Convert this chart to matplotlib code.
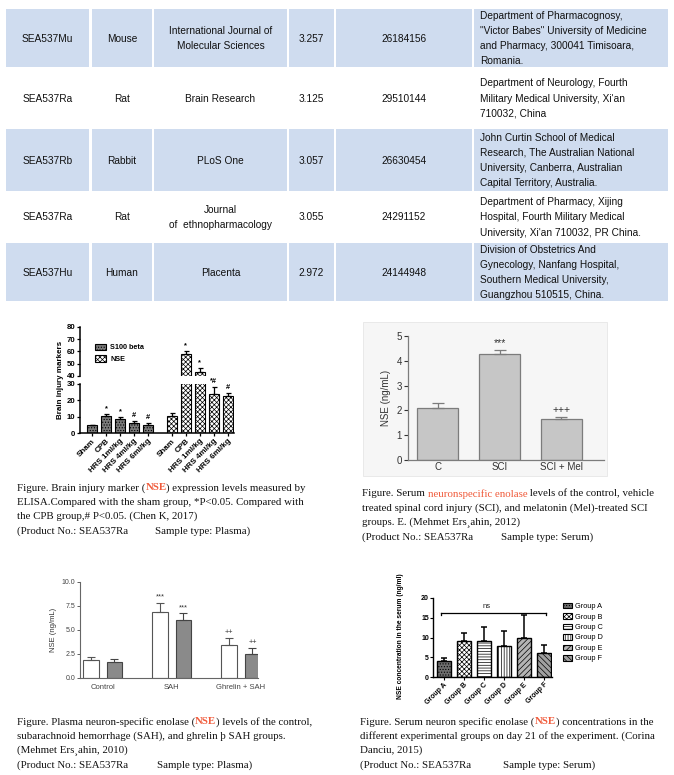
import matplotlib
matplotlib.use("Agg")
import matplotlib.pyplot as plt
from matplotlib.patches import Rectangle, Patch
import numpy as np

W, H = 674, 775

# table
cat_no = ["SEA537Mu", "SEA537Ra", "SEA537Rb", "SEA537Ra", "SEA537Hu"]
species = ["Mouse", "Rat", "Rabbit", "Rat", "Human"]
journals = [["International Journal of", "Molecular Sciences"], ["Brain Research"], ["PLoS One"],
            ["Journal", "of  ethnopharmacology"], ["Placenta"]]
impact = ["3.257", "3.125", "3.057", "3.055", "2.972"]
pmid = ["26184156", "29510144", "26630454", "24291152", "24144948"]
affil = [
    ["Department of Pharmacognosy,", "\"Victor Babes\" University of Medicine",
     "and Pharmacy, 300041 Timisoara,", "Romania."],
    ["Department of Neurology, Fourth", "Military Medical University, Xi'an", "710032, China"],
    ["John Curtin School of Medical", "Research, The Australian National",
     "University, Canberra, Australian", "Capital Territory, Australia."],
    ["Department of Pharmacy, Xijing", "Hospital, Fourth Military Medical",
     "University, Xi'an 710032, PR China."],
    ["Division of Obstetrics And", "Gynecology, Nanfang Hospital,",
     "Southern Medical University,", "Guangzhou 510515, China."],
]

# chart 1 - brain injury markers
groups1 = ["Sham", "CPB", "HRS 1ml/kg", "HRS 4ml/kg", "HRS 6ml/kg"]
s100 = [4.6, 10.4, 8.6, 6.1, 4.9]
s100_err = [0.4, 1.1, 1.2, 1.5, 1.4]
s100_sig = ["", "*", "*", "#", "#"]
nse1 = [10.6, 57.7, 43.5, 23.9, 22.7]
nse1_err = [1.4, 2.7, 2.8, 4.1, 2.0]
nse1_sig = ["", "*", "*", "*#", "#"]

# chart 2 - SCI
groups2 = ["C", "SCI", "SCI + Mel"]
nse2 = [2.08, 4.26, 1.64]
nse2_err = [0.21, 0.18, 0.11]
nse2_sig = ["", "***", "+++"]

# chart 3 - SAH
groups3 = ["Control", "SAH", "Ghrelin + SAH"]
nse3_a = [1.9, 6.83, 3.41]
nse3_a_err = [0.27, 1.0, 0.73]
nse3_b = [1.66, 6.0, 2.45]
nse3_b_err = [0.31, 0.72, 0.65]
nse3_sig = ["", "***", "++"]

# chart 4 - day 21 groups
groups4 = ["Group A", "Group B", "Group C", "Group D", "Group E", "Group F"]
nse4 = [4.0, 9.2, 9.1, 7.8, 9.8, 6.1]
nse4_err = [0.9, 2.0, 3.5, 3.9, 5.9, 1.9]

RED = "#f05a3a"
plt.rcParams["font.family"] = ["Liberation Sans", "DejaVu Sans"]
plt.rcParams["hatch.linewidth"] = 0.5

fig = plt.figure(figsize=(W / 100, H / 100), dpi=100)
tab = fig.add_axes([0, 0, 1, 1])
tab.set_xlim(0, W)
tab.set_ylim(H, 0)
tab.axis("off")


def px_axes(x0, y0, x1, y1):
    return fig.add_axes([x0 / W, 1 - y1 / H, (x1 - x0) / W, (y1 - y0) / H])


# ---------------- table
row_edges = [9, 68, 129, 192, 243, 302]
col_edges = [(6, 89), (92, 152), (154, 287), (289, 334), (336, 472), (474, 668)]
for i in range(5):
    top, bot = row_edges[i], row_edges[i + 1]
    if i % 2 == 0:
        for c0, c1 in col_edges:
            tab.add_patch(Rectangle((c0, top), c1 - c0, bot - top - 1.5, fc="#cfdcef", ec="none"))
    yc = (top + bot) / 2
    cells = [[cat_no[i]], [species[i]], journals[i], [impact[i]], [pmid[i]]]
    for (c0, c1), lines in zip(col_edges[:5], cells):
        n = len(lines)
        for k, s in enumerate(lines):
            tab.text((c0 + c1) / 2, yc + (k - (n - 1) / 2) * 14.5, s, ha="center", va="center",
                     fontsize=7.3, color="#111111")
    n = len(affil[i])
    for k, s in enumerate(affil[i]):
        tab.text(480, yc + (k - (n - 1) / 2) * 15.2, s, ha="left", va="center",
                 fontsize=7.3, color="#111111")

# ---------------- chart 1 (broken axis)
b_top = px_axes(80, 327, 234, 376)
b_bot = px_axes(80, 384, 234, 433)
xa = np.arange(5)
xb = np.arange(5) + 5.7
for ax in (b_top, b_bot):
    ax.bar(xa, s100, 0.75, color="#7a7a7a", edgecolor="black", lw=0.8, hatch="......")
    ax.bar(xb, nse1, 0.75, color="white", edgecolor="black", lw=0.8, hatch="xxxxxxx")
    ax.errorbar(xa, s100, yerr=[np.zeros(5), s100_err], fmt="none", ecolor="black",
                elinewidth=0.9, capsize=1.8, capthick=0.9)
    ax.errorbar(xb, nse1, yerr=[np.zeros(5), nse1_err], fmt="none", ecolor="black",
                elinewidth=0.9, capsize=1.8, capthick=0.9)
    ax.set_xlim(-0.86, 10.14)
    ax.patch.set_alpha(0)
    for sp in ("top", "right"):
        ax.spines[sp].set_visible(False)
    ax.spines["left"].set_linewidth(1.1)
    ax.spines["bottom"].set_linewidth(1.1)
    ax.tick_params(labelsize=5.6, width=0.9, length=2.5, pad=1)
b_top.set_ylim(40, 80)
b_top.set_yticks([40, 50, 60, 70, 80])
b_top.spines["bottom"].set_visible(False)
b_top.set_xticks([])
b_bot.set_ylim(0, 30)
b_bot.set_yticks([0, 10, 20, 30])
b_bot.set_xticks(np.concatenate([xa, xb]))
b_bot.set_xticklabels(groups1 + groups1, rotation=45, ha="right", rotation_mode="anchor",
                      fontsize=5.8, fontweight="bold")
for lb in b_top.get_yticklabels() + b_bot.get_yticklabels():
    lb.set_fontweight("bold")
for xs, vals, errs, sigs in ((xa, s100, s100_err, s100_sig), (xb, nse1, nse1_err, nse1_sig)):
    for x, v, e, s in zip(xs, vals, errs, sigs):
        if not s:
            continue
        ax = b_top if v + e > 40 else b_bot
        ax.text(x, v + e + (1.6 if ax is b_top else 1.1), s, ha="center", va="bottom",
                fontsize=5.3, fontweight="bold", clip_on=False)
b_top.legend(handles=[Patch(fc="#7a7a7a", ec="black", hatch="......", lw=0.8),
                      Patch(fc="white", ec="black", hatch="xxxxxxx", lw=0.8)],
             labels=["S100 beta", "NSE"], loc="upper left", bbox_to_anchor=(91 / W, 1 - 340 / H),
             bbox_transform=fig.transFigure, frameon=False, borderpad=0, handlelength=1.6,
             handleheight=1.0, labelspacing=0.55, handletextpad=0.6,
             prop={"size": 5.2, "weight": "bold"})
fig.text(60 / W, 1 - 380 / H, "Brain injury markers", rotation=90, fontsize=5.8,
         fontweight="bold", ha="center", va="center")

# ---------------- chart 2 (SCI)
tab.add_patch(Rectangle((363, 322), 244, 154, fc="#f6f6f6", ec="#e6e6e6", lw=0.6))
sa = px_axes(408, 336, 604, 460)
x2 = np.arange(3)
sa.bar(x2, nse2, 0.66, color="#c6c6c6", edgecolor="#7c7c7c", lw=0.9)
sa.errorbar(x2, nse2, yerr=[np.zeros(3), nse2_err], fmt="none", ecolor="#7c7c7c",
            elinewidth=0.9, capsize=4.5, capthick=0.9)
for x, v, e, s in zip(x2, nse2, nse2_err, nse2_sig):
    if s:
        sa.text(x, v + e + 0.08, s, ha="center", va="bottom", fontsize=7.5, color="#333333")
sa.set_xlim(-0.48, 2.69)
sa.set_ylim(0, 5)
sa.set_xticks(x2)
sa.set_xticklabels(groups2)
sa.patch.set_alpha(0)
for sp in ("top", "right"):
    sa.spines[sp].set_visible(False)
for sp in ("left", "bottom"):
    sa.spines[sp].set_color("#7c7c7c")
    sa.spines[sp].set_linewidth(0.9)
sa.tick_params(labelsize=7, colors="#333333", length=3, width=0.8, pad=1.5)
sa.tick_params(axis="x", length=0)
sa.set_ylabel("NSE (ng/mL)", fontsize=7, color="#333333", labelpad=4)

# ---------------- chart 3 (SAH)
ha3 = px_axes(80, 582, 258, 678)
x3 = np.arange(3)
ha3.bar(x3 - 0.17, nse3_a, 0.22, color="white", edgecolor="#555555", lw=0.8)
ha3.bar(x3 + 0.17, nse3_b, 0.22, color="#8a8a8a", edgecolor="#444444", lw=0.8)
ha3.errorbar(x3 - 0.17, nse3_a, yerr=[np.zeros(3), nse3_a_err], fmt="none", ecolor="#555555",
             elinewidth=0.8, capsize=2.8, capthick=0.8)
ha3.errorbar(x3 + 0.17, nse3_b, yerr=[np.zeros(3), nse3_b_err], fmt="none", ecolor="#444444",
             elinewidth=0.8, capsize=2.8, capthick=0.8)
for x, va_, ea, vb, eb, s in zip(x3, nse3_a, nse3_a_err, nse3_b, nse3_b_err, nse3_sig):
    if s:
        ha3.text(x - 0.17, va_ + ea + 0.25, s, ha="center", va="bottom", fontsize=5.3, color="#333333")
        ha3.text(x + 0.17, vb + eb + 0.25, s, ha="center", va="bottom", fontsize=5.3, color="#333333")
ha3.set_xlim(-0.33, 2.25)
ha3.set_ylim(0, 10)
ha3.set_yticks([0, 2.5, 5, 7.5, 10])
ha3.set_yticklabels(["0.0", "2.5", "5.0", "7.5", "10.0"])
ha3.set_xticks(x3)
ha3.set_xticklabels(groups3)
for sp in ("top", "right"):
    ha3.spines[sp].set_visible(False)
for sp in ("left", "bottom"):
    ha3.spines[sp].set_color("#666666")
    ha3.spines[sp].set_linewidth(0.8)
ha3.tick_params(labelsize=5, colors="#444444", length=2, width=0.6, pad=1.5)
ha3.tick_params(axis="x", length=0, labelsize=5.5, pad=4)
ha3.set_ylabel("NSE (ng/mL)", fontsize=5.5, color="#333333", labelpad=3)

# ---------------- chart 4 (groups A-F)
ga = px_axes(433, 598, 552, 677)
x4 = np.arange(6)
fills = ["#6e6e6e", "white", "white", "white", "#b4b4b4", "#a0a0a0"]
hatches = ["......", "xxxxxxx", "------", "||||||", "//////", "\\\\\\\\\\\\"]
bars = ga.bar(x4, nse4, 0.7, color=fills, edgecolor="black", lw=1.0)
for b, h in zip(bars, hatches):
    b.set_hatch(h)
ga.errorbar(x4, nse4, yerr=[np.zeros(6), nse4_err], fmt="none", ecolor="black",
            elinewidth=1.1, capsize=2.2, capthick=1.1)
ga.plot([-0.15, 5.1], [16.3, 16.3], color="black", lw=0.9)
ga.plot([-0.15, -0.15], [15.7, 16.3], color="black", lw=0.9)
ga.plot([5.1, 5.1], [15.7, 16.3], color="black", lw=0.9)
ga.text(2.15, 16.9, "ns", ha="center", va="bottom", fontsize=5.5, color="#222222")
ga.set_xlim(-0.55, 5.4)
ga.set_ylim(0, 20)
ga.set_yticks([0, 5, 10, 15, 20])
ga.set_xticks(x4)
ga.set_xticklabels(groups4, rotation=45, ha="right", rotation_mode="anchor", fontsize=4.8,
                   fontweight="bold")
for lb in ga.get_yticklabels():
    lb.set_fontweight("bold")
for sp in ("top", "right"):
    ga.spines[sp].set_visible(False)
ga.spines["left"].set_linewidth(1.0)
ga.spines["bottom"].set_linewidth(1.0)
ga.tick_params(labelsize=5, length=2, width=0.8, pad=1)
fig.text(401 / W, 1 - 636 / H, "NSE concentration in the serum (ng/ml)", rotation=90,
         fontsize=4.8, fontweight="bold", ha="center", va="center")
ga.legend(handles=[Patch(fc=f, ec="black", hatch=h, lw=0.8) for f, h in zip(fills, hatches)],
          labels=groups4, loc="upper left", bbox_to_anchor=(559 / W, 1 - 599 / H),
          bbox_transform=fig.transFigure, frameon=False, borderpad=0, handlelength=1.25,
          handleheight=0.8, labelspacing=0.42, handletextpad=0.45, prop={"size": 5.3})

# ---------------- captions
renderer = fig.canvas.get_renderer()


def text_width(s, size, weight):
    a = tab.text(0, 0, "x" + s + "x", fontsize=size, fontweight=weight, family="Liberation Serif")
    b = tab.text(0, 0, "xx", fontsize=size, fontweight=weight, family="Liberation Serif")
    w = a.get_window_extent(renderer).width - b.get_window_extent(renderer).width
    a.remove()
    b.remove()
    return w


def caption(x, y, lines, sample_x, product, size=7.8):
    for k, parts in enumerate(lines):
        xx = x
        for s, col, wt in parts:
            tab.text(xx, y + k * 14.3, s, color=col, fontsize=size, fontweight=wt,
                     family="Liberation Serif", ha="left", va="center")
            xx += text_width(s, size, wt)
    yy = y + len(lines) * 14.3
    tab.text(x, yy, "(Product No.: SEA537Ra", fontsize=size, family="Liberation Serif",
             ha="left", va="center", color="#111111")
    tab.text(sample_x, yy, product, fontsize=size, family="Liberation Serif",
             ha="left", va="center", color="#111111")


K = "#111111"
caption(17, 488, [
    [("Figure. Brain injury marker (", K, "normal"), ("NSE", RED, "bold"),
     (") expression levels measured by", K, "normal")],
    [("ELISA.Compared with the sham group, *P<0.05. Compared with", K, "normal")],
    [("the CPB group,# P<0.05. (Chen K, 2017)", K, "normal")],
], 155, "Sample type: Plasma)")
caption(362, 494, [
    [("Figure. Serum ", K, "normal"), ("neuronspecific enolase", RED, "normal"),
     (" levels of the control, vehicle", K, "normal")],
    [("treated spinal cord injury (SCI), and melatonin (Mel)-treated SCI", K, "normal")],
    [("groups. E. (Mehmet Ers\u00b8ahin, 2012)", K, "normal")],
], 501, "Sample type: Serum)")
caption(17, 722, [
    [("Figure. Plasma neuron-specific enolase (", K, "normal"), ("NSE", RED, "bold"),
     (") levels of the control,", K, "normal")],
    [("subarachnoid hemorrhage (SAH), and ghrelin \u00fe SAH groups.", K, "normal")],
    [("(Mehmet Ers\u00b8ahin, 2010)", K, "normal")],
], 157, "Sample type: Plasma)")
caption(360, 722, [
    [("Figure. Serum neuron specific enolase (", K, "normal"), ("NSE", RED, "bold"),
     (") concentrations in the", K, "normal")],
    [("different experimental groups on day 21 of the experiment. (Corina", K, "normal")],
    [("Danciu, 2015)", K, "normal")],
], 503, "Sample type: Serum)")

fig.savefig("out.png", dpi=100)
